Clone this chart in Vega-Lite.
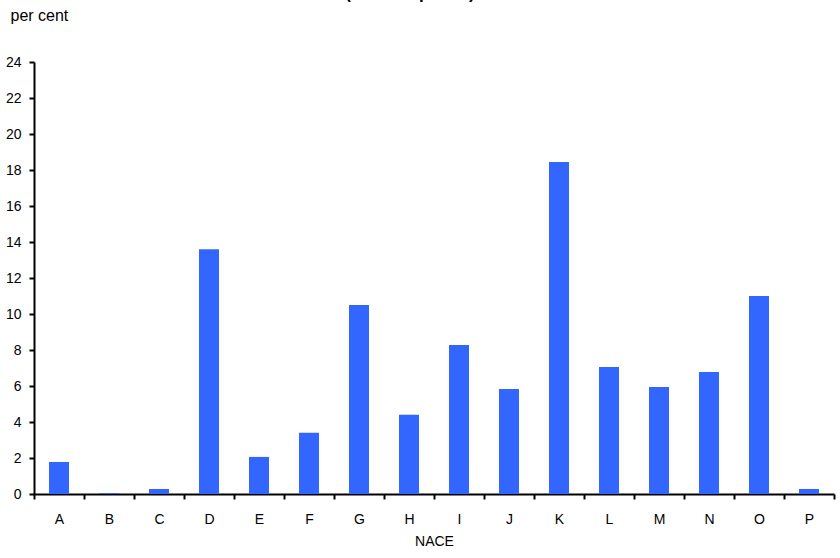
{
  "$schema": "https://vega.github.io/schema/vega-lite/v6.json",
  "width": 800,
  "height": 432,
  "autosize": "none",
  "padding": {"left": 34, "top": 62, "right": 6, "bottom": 64},
  "background": "white",
  "title": {
    "text": "(at basic prices)",
    "fontSize": 17,
    "fontWeight": "bold",
    "font": "Liberation Sans",
    "color": "#000000",
    "anchor": "middle",
    "frame": "group",
    "dx": -24,
    "offset": 4
  },
  "data": {
    "values": [
      {"NACE": "A", "value": 1.78},
      {"NACE": "B", "value": 0.05},
      {"NACE": "C", "value": 0.28},
      {"NACE": "D", "value": 13.6},
      {"NACE": "E", "value": 2.06},
      {"NACE": "F", "value": 3.4},
      {"NACE": "G", "value": 10.5},
      {"NACE": "H", "value": 4.4},
      {"NACE": "I", "value": 8.28},
      {"NACE": "J", "value": 5.83},
      {"NACE": "K", "value": 18.45},
      {"NACE": "L", "value": 7.06},
      {"NACE": "M", "value": 5.94},
      {"NACE": "N", "value": 6.78},
      {"NACE": "O", "value": 11.0},
      {"NACE": "P", "value": 0.28}
    ]
  },
  "mark": {"type": "bar", "color": "#3366ff", "width": {"band": 0.4}},
  "encoding": {
    "x": {
      "field": "NACE",
      "type": "nominal",
      "sort": null,
      "scale": {"paddingInner": 0, "paddingOuter": 0},
      "axis": {
        "labelAngle": 0,
        "labelFont": "Liberation Sans",
        "labelFontSize": 14,
        "labelColor": "#000000",
        "labelPadding": 13,
        "tickBand": "extent",
        "tickSize": 5,
        "tickWidth": 2,
        "tickColor": "#000000",
        "domainColor": "#000000",
        "domainWidth": 2,
        "title": "NACE",
        "titleFont": "Liberation Sans",
        "titleFontSize": 14,
        "titleFontWeight": "normal",
        "titleColor": "#000000",
        "titlePadding": 8,
        "grid": false
      }
    },
    "y": {
      "field": "value",
      "type": "quantitative",
      "scale": {"domain": [0, 24], "nice": false},
      "axis": {
        "values": [0, 2, 4, 6, 8, 10, 12, 14, 16, 18, 20, 22, 24],
        "labelFont": "Liberation Sans",
        "labelFontSize": 14,
        "labelColor": "#000000",
        "labelPadding": 8,
        "tickSize": 5,
        "tickWidth": 2,
        "tickColor": "#000000",
        "domainColor": "#000000",
        "domainWidth": 2,
        "grid": false,
        "title": "per cent",
        "titleAngle": 0,
        "titleAlign": "left",
        "titleBaseline": "alphabetic",
        "titleX": -24,
        "titleY": -42,
        "titleFont": "Liberation Sans",
        "titleFontSize": 16,
        "titleFontWeight": "normal",
        "titleColor": "#000000"
      }
    }
  },
  "config": {"view": {"stroke": null}}
}
